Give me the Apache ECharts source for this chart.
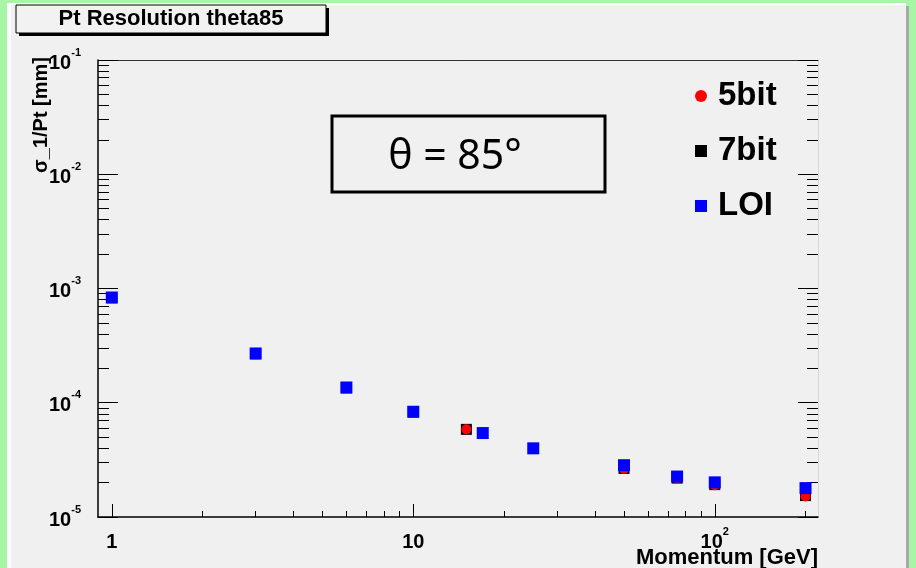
<!DOCTYPE html>
<html><head><meta charset="utf-8">
<script src="https://cdn.jsdelivr.net/npm/echarts@6/dist/echarts.min.js"></script>
<style>html,body{margin:0;padding:0;background:#a6f6a6;}#c{width:916px;height:568px;}</style>
</head><body><div id="c"></div>
<script>
// ---- data ----
const momentumBits = [1, 3, 6, 10, 15, 50, 75, 100, 200];
const res5bit = [8.3e-4, 2.68e-4, 1.35e-4, 8.3e-5, 5.85e-5, 2.63e-5, 2.17e-5, 1.90e-5, 1.51e-5];
const res7bit = [8.3e-4, 2.68e-4, 1.35e-4, 8.3e-5, 5.85e-5, 2.66e-5, 2.19e-5, 1.92e-5, 1.54e-5];
const momentumLOI = [1, 3, 6, 10, 17, 25, 50, 75, 100, 200];
const resLOI = [8.34e-4, 2.70e-4, 1.36e-4, 8.34e-5, 5.43e-5, 3.99e-5, 2.84e-5, 2.26e-5, 2.01e-5, 1.79e-5];
const seriesNames = ['5bit', '7bit', 'LOI'];
const xMajorTicks = [1, 10, 100];
const xTickLabels = ['1', '10', '10^2'];
const xMinorTicks = [2, 3, 4, 5, 6, 7, 8, 9, 20, 30, 40, 50, 60, 70, 80, 90, 200];
const yMajorTicks = [1e-5, 1e-4, 1e-3, 1e-2, 1e-1];
const yTickLabels = ['10^-5', '10^-4', '10^-3', '10^-2', '10^-1'];
const yMinorTicks = [];
[1e-5, 1e-4, 1e-3, 1e-2].forEach(d => { for (let k = 2; k <= 9; k++) yMinorTicks.push(+(k * d).toPrecision(3)); });
const titleText = 'Pt Resolution theta85';
const boxText = 'θ = 85°';
const xName = 'Momentum [GeV]';
const yName = 'σ_1/Pt [mm]';

const FONT = 'Liberation Sans, Arial, sans-serif';
function pairs(xs, ys) { return xs.map((x, i) => [x, ys[i]]); }
function rich(label) {
  const p = label.split('^');
  return p.length > 1 ? '{b|' + p[0] + '}{s|' + p[1] + '}' : '{b|' + p[0] + '}';
}
function labelFor(v, ticks, labels) {
  const lv = Math.log10(v);
  for (let i = 0; i < ticks.length; i++) if (Math.abs(Math.log10(ticks[i]) - lv) < 1e-6) return rich(labels[i]);
  return '';
}
const richStyle = {
  b: { fontFamily: FONT, fontWeight: 'bold', fontSize: 20, color: '#000', lineHeight: 26, verticalAlign: 'bottom' },
  s: { fontFamily: FONT, fontWeight: 'bold', fontSize: 11, color: '#000', lineHeight: 12, verticalAlign: 'top' }
};
const X_MIN = 0.9, X_MAX = 220, Y_MIN = 1e-5, Y_MAX = 1e-1;
function xAxisBase(extra) {
  return Object.assign({ type: 'log', logBase: 10, min: X_MIN, max: X_MAX, splitLine: { show: false }, axisLabel: { show: false }, axisLine: { show: false }, axisTick: { show: false } }, extra);
}
function yAxisBase(extra) {
  return Object.assign({ type: 'log', logBase: 10, min: Y_MIN, max: Y_MAX, splitLine: { show: false }, axisLabel: { show: false }, axisLine: { show: false }, axisTick: { show: false } }, extra);
}
const chart = echarts.init(document.getElementById('c'), null, { renderer: 'canvas' });
chart.setOption({
  backgroundColor: 'transparent',
  animation: false,
  grid: { left: 98, right: 98, top: 60, bottom: 51, show: false },
  graphic: [
    { type: 'rect', z: -100, shape: { x: 7, y: 3, width: 899, height: 565 }, style: { fill: '#ffffff' } },
    { type: 'rect', z: -99, shape: { x: 11, y: 5, width: 895, height: 563 }, style: { fill: '#f0f0f0' } },
    { type: 'rect', z: -99, shape: { x: 906, y: 6, width: 3, height: 562 }, style: { fill: '#a9a9a9' } },
    { type: 'rect', z: 10, shape: { x: 19, y: 8, width: 310, height: 28 }, style: { fill: '#000' } },
    { type: 'rect', z: 11, shape: { x: 16, y: 5, width: 310, height: 28 }, style: { fill: '#f2f2f2', stroke: '#000', lineWidth: 1 } },
    { type: 'text', z: 12, x: 171, y: 19, style: { text: titleText, font: 'bold 22px ' + FONT, fill: '#000', align: 'center', verticalAlign: 'middle' } },
    { type: 'rect', z: 10, shape: { x: 332, y: 116, width: 273, height: 76 }, style: { fill: 'none', stroke: '#000', lineWidth: 3 } },
    { type: 'text', z: 11, x: 455, y: 157, style: { text: boxText, font: '41px Noto Sans, Open Sans, sans-serif', fill: '#000', align: 'center', verticalAlign: 'middle' } },
    { type: 'text', z: 11, x: 41, y: 57, rotation: Math.PI / 2, style: { text: yName, font: 'bold 20px ' + FONT, fill: '#000', align: 'right', verticalAlign: 'middle' } },
    { type: 'text', z: 11, x: 818, y: 558, style: { text: xName, font: 'bold 22px ' + FONT, fill: '#000', align: 'right', verticalAlign: 'middle' } }
  ],
  legend: {
    orient: 'vertical', left: 695, top: 79, padding: 0,
    data: [
      { name: seriesNames[0], icon: 'circle' },
      { name: seriesNames[1], icon: 'rect' },
      { name: seriesNames[2], icon: 'rect' }
    ],
    itemWidth: 12, itemHeight: 12, itemGap: 21, itemTextGap: 11,
    textStyle: { fontFamily: FONT, fontWeight: 'bold', fontSize: 33, color: '#000', lineHeight: 34, padding: [0, 0, 0, 6] }
  },
  xAxis: [
    xAxisBase({ position: 'bottom', axisLine: { show: true, onZero: false, lineStyle: { color: '#000', width: 1.5 } },
      axisTick: { show: true, inside: true, length: 13, customValues: xMajorTicks, lineStyle: { color: '#000' } },
      axisLabel: { show: true, margin: 9, customValues: xMajorTicks, formatter: v => labelFor(v, xMajorTicks, xTickLabels), rich: richStyle } }),
    xAxisBase({ position: 'bottom', axisTick: { show: true, inside: true, length: 6, customValues: xMinorTicks, lineStyle: { color: '#000' } } }),
    xAxisBase({ position: 'top', axisLine: { show: true, onZero: false, lineStyle: { color: '#333', width: 1 } } })
  ],
  yAxis: [
    yAxisBase({ position: 'left', axisLine: { show: true, onZero: false, lineStyle: { color: '#000', width: 1.5 } },
      axisTick: { show: true, inside: true, length: 20, customValues: yMajorTicks, lineStyle: { color: '#000' } },
      axisLabel: { show: true, margin: 17, customValues: yMajorTicks, formatter: v => labelFor(v, yMajorTicks, yTickLabels), rich: richStyle } }),
    yAxisBase({ position: 'left', axisTick: { show: true, inside: true, length: 11, customValues: yMinorTicks, lineStyle: { color: '#000' } } }),
    yAxisBase({ position: 'right', axisLine: { show: true, onZero: false, lineStyle: { color: '#d8d8d8', width: 1 } },
      axisTick: { show: true, inside: true, length: 20, customValues: yMajorTicks, lineStyle: { color: '#000' } } }),
    yAxisBase({ position: 'right', axisTick: { show: true, inside: true, length: 11, customValues: yMinorTicks, lineStyle: { color: '#000' } } })
  ],
  series: [
    { name: seriesNames[1], type: 'scatter', symbol: 'rect', symbolSize: 11, itemStyle: { color: '#000', opacity: 1 }, data: pairs(momentumBits, res7bit), z: 2 },
    { name: seriesNames[0], type: 'scatter', symbol: 'circle', symbolSize: 10, itemStyle: { color: '#ff0000', opacity: 1 }, data: pairs(momentumBits, res5bit), z: 3 },
    { name: seriesNames[2], type: 'scatter', symbol: 'rect', symbolSize: 12, itemStyle: { color: '#0000ff', opacity: 1 }, data: pairs(momentumLOI, resLOI), z: 4 }
  ]
});
</script></body></html>
